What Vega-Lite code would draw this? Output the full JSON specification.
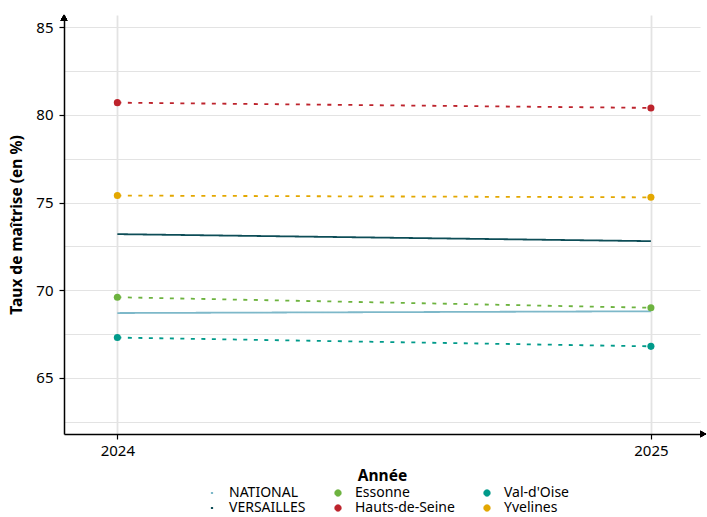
{
  "$schema": "https://vega.github.io/schema/vega-lite/v6.json",
  "width": 636,
  "height": 419,
  "autosize": {"type": "none"},
  "padding": {"left": 64, "top": 15, "right": 7, "bottom": 83},
  "background": "white",
  "config": {
    "font": "Noto Sans",
    "view": {"stroke": null},
    "axis": {
      "domainColor": "black",
      "domainWidth": 1.5,
      "tickColor": "black",
      "tickWidth": 1.2,
      "tickSize": 5,
      "labelColor": "black",
      "labelFontSize": 15,
      "titleColor": "black",
      "titleFontSize": 15.5,
      "titleFontWeight": "bold",
      "gridColor": "#E3E3E3"
    }
  },
  "data": {
    "values": [
      {"entite": "NATIONAL", "type": "ref", "annee": 2024, "taux": 68.7},
      {"entite": "NATIONAL", "type": "ref", "annee": 2025, "taux": 68.8},
      {"entite": "VERSAILLES", "type": "ref", "annee": 2024, "taux": 73.2},
      {"entite": "VERSAILLES", "type": "ref", "annee": 2025, "taux": 72.8},
      {"entite": "Essonne", "type": "dep", "annee": 2024, "taux": 69.6},
      {"entite": "Essonne", "type": "dep", "annee": 2025, "taux": 69.0},
      {"entite": "Hauts-de-Seine", "type": "dep", "annee": 2024, "taux": 80.7},
      {"entite": "Hauts-de-Seine", "type": "dep", "annee": 2025, "taux": 80.4},
      {"entite": "Val-d'Oise", "type": "dep", "annee": 2024, "taux": 67.3},
      {"entite": "Val-d'Oise", "type": "dep", "annee": 2025, "taux": 66.8},
      {"entite": "Yvelines", "type": "dep", "annee": 2024, "taux": 75.4},
      {"entite": "Yvelines", "type": "dep", "annee": 2025, "taux": 75.3}
    ]
  },
  "encoding": {
    "x": {
      "field": "annee",
      "type": "quantitative",
      "scale": {"domain": [2023.9, 2025.092], "nice": false, "zero": false},
      "axis": {
        "values": [2024, 2025],
        "format": "d",
        "title": "Année",
        "grid": true,
        "gridWidth": 1.8,
        "labelPadding": 4,
        "titlePadding": 10
      }
    },
    "y": {
      "field": "taux",
      "type": "quantitative",
      "scale": {"domain": [61.8, 85.7], "nice": false, "zero": false},
      "axis": {
        "values": [62.5, 65, 67.5, 70, 72.5, 75, 77.5, 80, 82.5, 85],
        "labelExpr": "datum.value % 5 === 0 ? datum.label : ''",
        "tickOpacity": {"condition": {"test": "datum.value % 5 === 0", "value": 1}, "value": 0},
        "title": "Taux de maîtrise (en %)",
        "grid": true,
        "gridWidth": 1.2,
        "labelPadding": 6,
        "titlePadding": 11
      }
    },
    "color": {
      "field": "entite",
      "type": "nominal",
      "scale": {
        "domain": ["NATIONAL", "Essonne", "Val-d'Oise", "VERSAILLES", "Hauts-de-Seine", "Yvelines"],
        "range": ["#7DB8C9", "#6DB33F", "#009A8A", "#0D4D57", "#BD232C", "#E3A700"]
      },
      "legend": {
        "title": null,
        "orient": "none",
        "legendX": 141,
        "legendY": 471,
        "direction": "horizontal",
        "columns": 3,
        "labelFontSize": 14,
        "labelColor": "black",
        "columnPadding": 25,
        "rowPadding": 1,
        "labelOffset": 10,
        "symbolSize": 40,
        "encode": {
          "symbols": {
            "update": {
              "shape": {"signal": "indexof(['NATIONAL','VERSAILLES'], datum.value) >= 0 ? 'M-0.35,0H0.35' : 'circle'"},
              "fill": {"scale": "color", "field": "value"},
              "stroke": {"scale": "color", "field": "value"},
              "strokeWidth": {"signal": "indexof(['NATIONAL','VERSAILLES'], datum.value) >= 0 ? 2 : 1"},
              "strokeDash": {"value": [1, 0]},
              "opacity": {"value": 1}
            }
          }
        }
      }
    }
  },
  "layer": [
    {
      "mark": {"type": "line", "strokeWidth": 1.8},
      "encoding": {
        "strokeDash": {
          "field": "type",
          "type": "nominal",
          "scale": {"domain": ["ref", "dep"], "range": [[1, 0], [4, 6.5]]},
          "legend": null
        }
      }
    },
    {
      "transform": [{"filter": "datum.type === 'dep'"}],
      "mark": {"type": "circle", "size": 50, "opacity": 1}
    },
    {
      "mark": {"type": "point", "shape": "triangle-up", "filled": true, "color": "black", "size": 45, "opacity": 1, "clip": false},
      "encoding": {
        "x": {"datum": 2023.9, "type": "quantitative"},
        "y": {"datum": 85.55, "type": "quantitative"},
        "color": null
      }
    },
    {
      "mark": {"type": "point", "shape": "triangle-right", "filled": true, "color": "black", "size": 45, "opacity": 1, "clip": false},
      "encoding": {
        "x": {"datum": 2025.098, "type": "quantitative"},
        "y": {"datum": 61.8, "type": "quantitative"},
        "color": null
      }
    }
  ]
}
